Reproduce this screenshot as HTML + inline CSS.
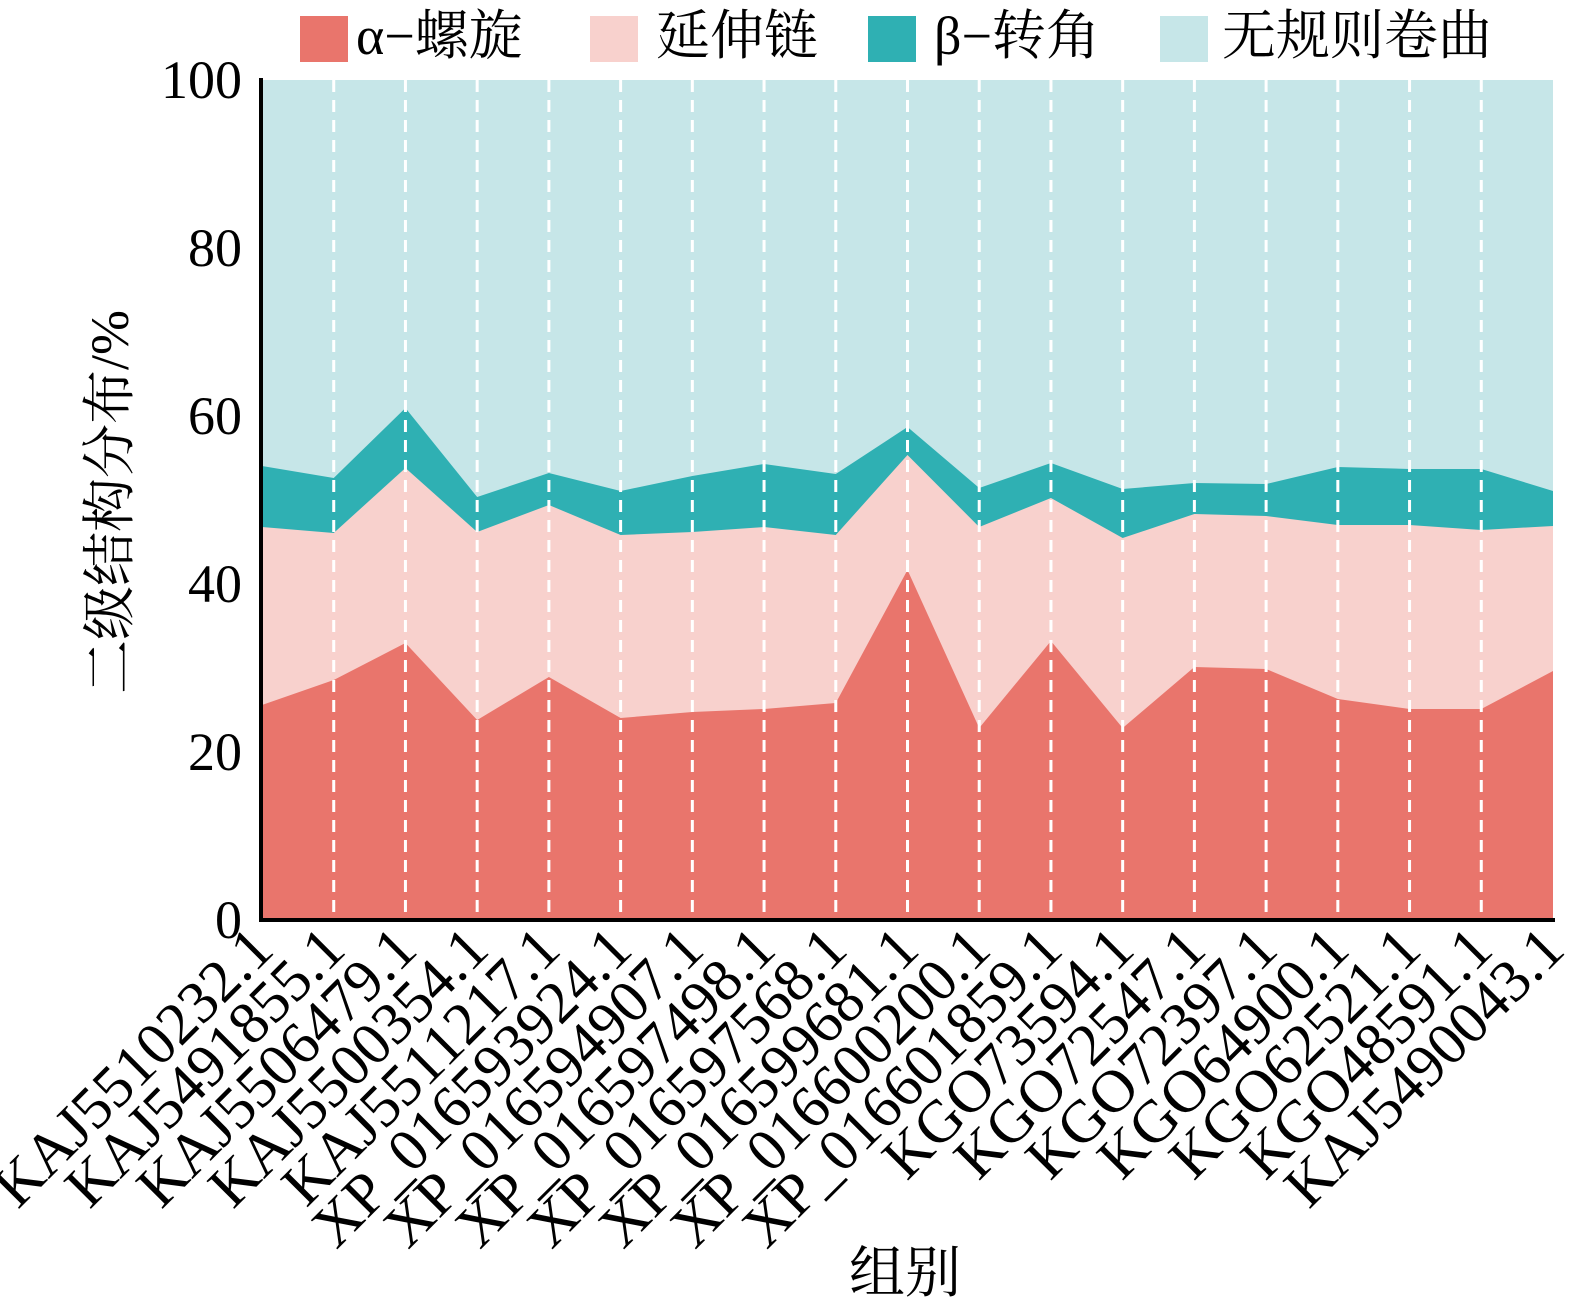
<!DOCTYPE html>
<html><head><meta charset="utf-8"><style>body{margin:0;background:#fff}</style></head><body>
<svg width="1576" height="1306" xmlns="http://www.w3.org/2000/svg" font-family="'Liberation Serif','Noto Serif CJK SC',serif">
<rect width="1576" height="1306" fill="#fff"/>
<rect x="262" y="80" width="1291" height="840" fill="#c6e6e8"/>
<g id="areas"></g>
<g id="grid"></g>
<line x1="261" y1="78" x2="261" y2="922" stroke="#000" stroke-width="4"/>
<line x1="259" y1="920" x2="1555" y2="920" stroke="#000" stroke-width="4"/>
<g font-size="54" text-anchor="end">
<text x="242" y="98">100</text><text x="242" y="266">80</text><text x="242" y="434">60</text><text x="242" y="602">40</text><text x="242" y="770">20</text><text x="242" y="938">0</text>
</g>
<g id="xl" font-size="60" text-anchor="end"></g>
<text x="905" y="1292" font-size="56" text-anchor="middle">组别</text>
<text transform="translate(128,502) rotate(-90)" font-size="54" text-anchor="middle">二级结构分布/%</text>
<g font-size="54">
<rect x="300" y="16" width="48" height="46" fill="#e9756c"/><text x="356" y="54">α−螺旋</text>
<rect x="590" y="16" width="48" height="46" fill="#f8d1cd"/><text x="656" y="54">延伸链</text>
<rect x="868" y="16" width="48" height="46" fill="#2fb0b3"/><text x="934" y="54">β−转角</text>
<rect x="1160" y="16" width="48" height="46" fill="#c6e6e8"/><text x="1222" y="54">无规则卷曲</text>
</g>
<script>
var a=[705,680,643,720,677,718,712,709,703,570,728,641,728,667,669,699,709,709,671];
var e=[527,533,468,532,505,535,532,527,535,455,527,498,538,514,516,525,525,530,526];
var b=[466,478,408,497,473,491,476,464,474,427,488,463,489,483,484,467,469,469,491];
var L=["KAJ5510232.1","KAJ5491855.1","KAJ5506479.1","KAJ5500354.1","KAJ5511217.1","XP_016593924.1","XP_016594907.1","XP_016597498.1","XP_016597568.1","XP_016599681.1","XP_016600200.1","XP_016601859.1","KGO73594.1","KGO72547.1","KGO72397.1","KGO64900.1","KGO62521.1","KGO48591.1","KAJ5490043.1"];
var NS="http://www.w3.org/2000/svg",X=[];
for(var i=0;i<19;i++)X.push(262+i*1291/18);
function poly(t,c){var p=[];for(var i=0;i<19;i++)p.push(X[i]+","+t[i]);p.push("1553,920","262,920");var g=document.createElementNS(NS,"polygon");g.setAttribute("points",p.join(" "));g.setAttribute("fill",c);document.getElementById("areas").appendChild(g);}
poly(b,"#2fb0b3");poly(e,"#f8d1cd");poly(a,"#e9756c");
var gr=document.getElementById("grid"),xl=document.getElementById("xl");
for(var i=0;i<19;i++){
 if(i>0&&i<18){var l=document.createElementNS(NS,"line");l.setAttribute("x1",X[i]);l.setAttribute("x2",X[i]);l.setAttribute("y1",80);l.setAttribute("y2",918);l.setAttribute("stroke","#fff");l.setAttribute("stroke-width","3");l.setAttribute("stroke-dasharray","12 8");gr.appendChild(l);}
 var t=document.createElementNS(NS,"text");t.setAttribute("transform","translate("+(X[i]+14)+",952) rotate(-45)");t.textContent=L[i];xl.appendChild(t);
}
</script>
</svg>
</body></html>
